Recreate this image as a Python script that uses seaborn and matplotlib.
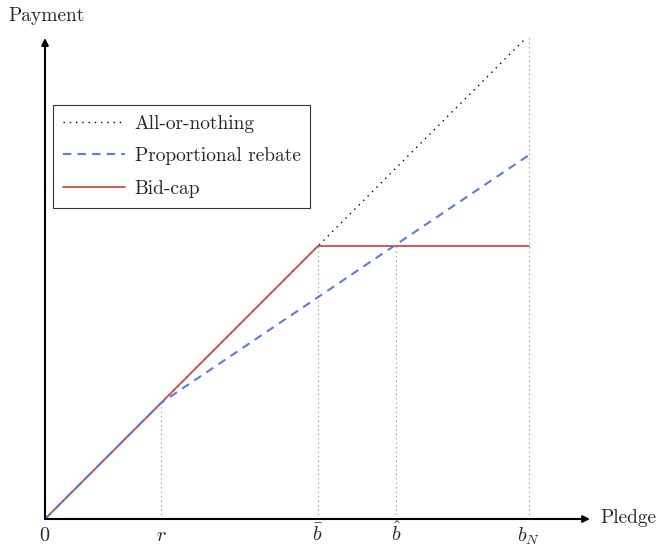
import numpy as np
import pandas as pd
import matplotlib
matplotlib.use("Agg")
import matplotlib.pyplot as plt
import seaborn as sns

# Key pledge levels (b_N normalised to 10)
r = 2.4
b_bar = 5.64
b_hat = 7.25
b_N = 10.0
cap = 5.64
rebate_end = 7.52

tick_pos = [0, r, b_bar, b_hat, b_N]
tick_labels = ["$0$", "$r$", r"$\bar{b}$", r"$\hat{b}$", "$b_N$"]

# Schedules
aon_x = [0, b_N]
aon_y = [0, b_N]
reb_x = [0, r, b_N]
reb_y = [0, r, rebate_end]
cap_x = [0, b_bar, b_N]
cap_y = [0, cap, cap]

sns.set_style("white")
plt.rcParams["font.family"] = "serif"
plt.rcParams["font.serif"] = ["cmr10", "DejaVu Serif"]
plt.rcParams["mathtext.fontset"] = "cm"
plt.rcParams["axes.formatter.use_mathtext"] = True

fig = plt.figure(figsize=(6.59, 5.47), dpi=100)
ax = fig.add_axes([45 / 659, 28 / 547, 545 / 659, 481 / 547])

# guide lines
for xv, yv in [(r, r), (b_bar, cap), (b_hat, cap), (b_N, b_N)]:
    ax.plot([xv, xv], [0, yv], color="#888888", lw=0.8, ls=(0, (1, 3)), zorder=1)

sns.lineplot(x=aon_x, y=aon_y, ax=ax, color="black", lw=1.0, ls=(0, (1, 3.5)),
             label="All-or-nothing", zorder=2)
sns.lineplot(x=reb_x, y=reb_y, ax=ax, color="#5c7be0", lw=1.5, ls=(0, (4, 3)),
             label="Proportional rebate", zorder=3)
sns.lineplot(x=cap_x, y=cap_y, ax=ax, color="#d44a4a", lw=1.3,
             label="Bid-cap", zorder=2)

ax.set_xlim(0, 545 / 48.4)
ax.set_ylim(0, 481 / 48.4)
for s in ax.spines.values():
    s.set_visible(False)
ax.set_yticks([])
ax.set_xticks(tick_pos)
ax.set_xticklabels(tick_labels, fontsize=14.5)
ax.tick_params(axis="x", length=0, pad=16)
for lab in ax.get_xticklabels():
    lab.set_va("baseline")
ax.set_xlabel("")
ax.set_ylabel("")

# arrow axes
ax.annotate("", xy=(1, 0), xytext=(0, 0), xycoords="axes fraction",
            arrowprops=dict(arrowstyle="-|>", color="black", lw=1.5,
                            mutation_scale=10, shrinkA=0, shrinkB=0), annotation_clip=False)
ax.annotate("", xy=(0, 1), xytext=(0, 0), xycoords="axes fraction",
            arrowprops=dict(arrowstyle="-|>", color="black", lw=1.5,
                            mutation_scale=10, shrinkA=0, shrinkB=0), annotation_clip=False)
fig.text(8 / 659, 1 - 16 / 547, "Payment", fontsize=14, va="center", ha="left")
fig.text(600 / 659, 1 - 518 / 547, "Pledge", fontsize=14, va="center", ha="left")

leg = ax.legend(loc="upper left", bbox_to_anchor=(8 / 545, (519 - 105) / 481),
                borderaxespad=0, fontsize=14, frameon=True, fancybox=False,
                edgecolor="black", handlelength=3.2, handletextpad=0.5,
                labelspacing=0.75, borderpad=0.5)
leg.get_frame().set_linewidth(0.8)

fig.savefig("out.png", dpi=100)
